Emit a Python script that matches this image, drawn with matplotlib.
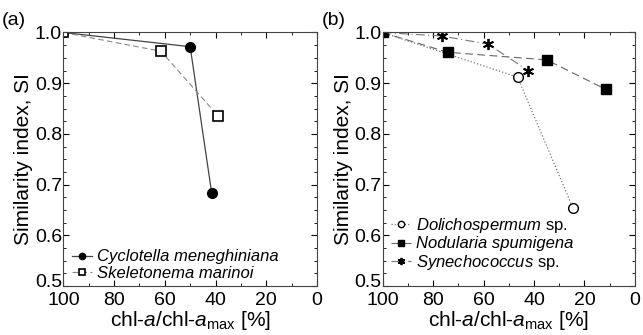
import matplotlib
matplotlib.use("Agg")
import matplotlib.pyplot as plt
from matplotlib.ticker import MultipleLocator
from matplotlib.transforms import ScaledTranslation

plt.rcParams['font.family'] = ['Liberation Sans', 'DejaVu Sans']
plt.rcParams['mathtext.fontset'] = 'custom'
plt.rcParams['mathtext.rm'] = 'Liberation Sans'
plt.rcParams['mathtext.it'] = 'Liberation Sans:italic'

# panel (a): diatoms
cyc_x = [100, 50, 41.5]
cyc_si = [1.0, 0.972, 0.683]
ske_x = [100, 61.5, 38.9]
ske_si = [1.0, 0.963, 0.835]

# panel (b): cyanobacteria
dol_x = [100, 46.5, 24.5]
dol_si = [1.0, 0.912, 0.653]
nod_x = [100, 74.2, 35.0, 11.6]
nod_si = [1.0, 0.961, 0.946, 0.888]
syn_x = [100, 76.5, 58.2, 42.3]
syn_si = [1.0, 0.993, 0.977, 0.925]

xlabel = 'chl-$a$/chl-$a_{\\mathrm{max}}$ [%]'
ylabel = 'Similarity index, SI'

fig = plt.figure(figsize=(6.43, 3.35), dpi=100)
ax1 = fig.add_axes([0.0985, 0.146, 0.3945, 0.757])
ax2 = fig.add_axes([0.595, 0.146, 0.3925, 0.757])

ax1.plot(cyc_x, cyc_si, '-', color='#444444', lw=0.9, marker='o', ms=7,
         mfc='black', mec='black', label='Cyclotella meneghiniana')
ax1.plot(ske_x, ske_si, '--', color='#888888', lw=0.8, dashes=(5, 3), marker='s', ms=7,
         mfc='white', mec='black', mew=1.2, label='Skeletonema marinoi')

ax2.plot(dol_x, dol_si, ':', color='#777777', lw=0.9, marker='o', ms=7,
         mfc='white', mec='black', mew=1.0, label='Dolichospermum sp.')
ax2.plot(nod_x, nod_si, '--', color='#666666', lw=0.8, dashes=(7, 4), marker='s', ms=7,
         mfc='black', mec='black', label='Nodularia spumigena')
ax2.plot(syn_x, syn_si, '-.', color='#777777', lw=0.8, dashes=(8, 3, 1, 3), marker=(6, 2, 0), ms=8,
         mfc='black', mec='black', mew=1.3, label='Synechococcus sp.')

legend_anchor = {ax1: (0.035, 0.02), ax2: (0.035, 0.055)}

for ax in (ax1, ax2):
    ax.set_xlim(100, 0)
    ax.set_ylim(0.5, 1.0)
    ax.xaxis.set_major_locator(MultipleLocator(20))
    ax.xaxis.set_minor_locator(MultipleLocator(10))
    ax.yaxis.set_major_locator(MultipleLocator(0.1))
    ax.yaxis.set_minor_locator(MultipleLocator(0.025))
    ax.tick_params(which='both', direction='in', top=True, right=True, labelsize=14)
    ax.tick_params(axis='x', pad=4)
    ax.tick_params(axis='y', pad=1)
    ax.tick_params(which='major', length=4)
    ax.tick_params(which='minor', length=2.5)
    ax.set_xticks([100, 80, 60, 40, 20, 0])
    ax.set_xticklabels(['100', '80', '60', '40', '20', '0'])
    ax.set_yticks([0.5, 0.6, 0.7, 0.8, 0.9, 1.0])
    ax.set_yticklabels(['0.5', '0.6', '0.7', '0.8', '0.9', '1.0'])
    # the bottom label sits a bit higher, as in the original
    lab = ax.get_yticklabels()[0]
    lab.set_transform(lab.get_transform() + ScaledTranslation(0, 4 / 72, fig.dpi_scale_trans))
    ax.set_xlabel(xlabel, fontsize=15, labelpad=0)
    ax.set_ylabel(ylabel, fontsize=15, labelpad=1)
    for s in ax.spines.values():
        s.set_color('#444444')
    leg = ax.legend(loc='lower left', bbox_to_anchor=legend_anchor[ax], frameon=False,
                    fontsize=12, handlelength=1.2, handletextpad=0.3, labelspacing=0.1,
                    markerscale=0.65, borderaxespad=0, borderpad=0)
    for t in leg.get_texts():
        txt = t.get_text()
        if txt.endswith(' sp.'):
            t.set_text('$\\mathit{' + txt[:-4] + '}$ sp.')
        else:
            t.set_style('italic')

fig.text(0.003, 0.925, '(a)', fontsize=14)
fig.text(0.500, 0.925, '(b)', fontsize=14)

fig.savefig('out.png', dpi=100)
